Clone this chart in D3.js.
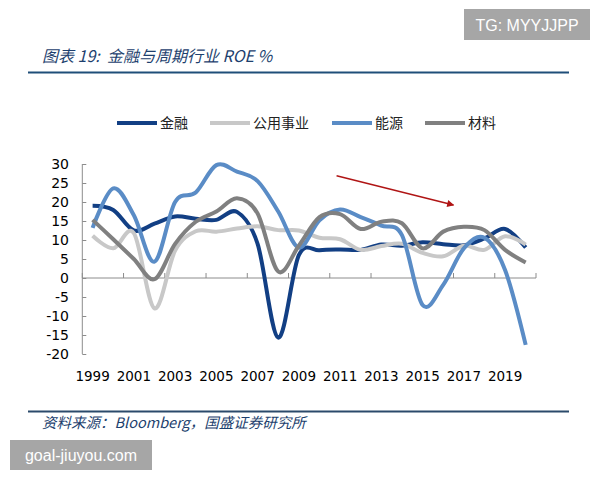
<!DOCTYPE html>
<html>
<head>
<meta charset="utf-8">
<script src="https://cdn.jsdelivr.net/npm/d3@7"></script>
<style>
  body { margin: 0; background: #fff; }
  svg { display: block; }
</style>
</head>
<body>
<svg id="svg" width="600" height="480"></svg>
<script>
// DATA
const years = d3.range(1999, 2021);
const finance   = [19.0, 17.9, 12.5, 14.3, 16.2, 15.6, 15.3, 17.4, 9.0, -15.7, 6.0, 7.3, 7.5, 7.4, 8.8, 8.5, 9.4, 8.9, 8.6, 10.4, 12.9, 8.0];
const utilities = [11.1, 7.8, 11.8, -8.0, 7.2, 12.3, 12.2, 13.0, 13.6, 12.6, 12.5, 10.6, 10.2, 7.4, 8.4, 9.0, 6.6, 5.7, 8.5, 7.4, 11.0, 8.8];
const energy    = [13.2, 23.6, 16.5, 4.3, 20.0, 22.5, 29.7, 28.0, 25.5, 17.5, 8.0, 15.2, 18.0, 16.0, 13.8, 11.3, -7.1, -1.8, 7.8, 10.6, 2.1, -17.6];
const materials = [15.3, 10.2, 5.0, -0.3, 9.0, 14.8, 17.5, 21.0, 17.0, 1.7, 8.5, 16.0, 16.8, 12.9, 14.8, 14.4, 7.8, 12.2, 13.5, 12.6, 7.4, 4.1];
const seriesNames = ["金融", "公用事业", "能源", "材料"];
const seriesColors = ["#123f84", "#c8c8c8", "#5a8cc6", "#808080"];
const yTicks = [-20, -15, -10, -5, 0, 5, 10, 15, 20, 25, 30];
// annotation arrow, in (year, value) units
const arrowFrom = [2010.83, 26.9];
const arrowTo = [2016.5, 19.2];

const series = [finance, utilities, energy, materials].map((vals, i) => ({
  name: seriesNames[i],
  color: seriesColors[i],
  values: vals.map((v, j) => ({ year: years[j], value: v }))
}));

// SCALES
const svg = d3.select("#svg");
const x = d3.scaleBand().domain(years).range([82.3, 536]).padding(0);
const xc = d => x(d) + x.bandwidth() / 2;
const xYear = d3.scaleLinear().domain([1999, 2020]).range([xc(1999), xc(2020)]);
const y = d3.scaleLinear().domain([-20, 30]).range([354, 164]);

const axisColor = "#8c8c8c";
const fontNum = "'DejaVu Sans', Verdana, sans-serif";
const fontCJK = "'Noto Sans CJK SC', sans-serif";
const navy = "#1d3f6e";

// HEADER
svg.append("rect")
  .attr("x", 464).attr("y", 9).attr("width", 126).attr("height", 31)
  .attr("fill", "#a6a6a6");
svg.append("text")
  .attr("x", 527).attr("y", 30.5)
  .attr("text-anchor", "middle")
  .attr("fill", "#fff")
  .style("font", "16px 'Liberation Sans', Arial, sans-serif")
  .text("TG: MYYJJPP");

svg.append("text")
  .attr("x", 42).attr("y", 62)
  .attr("fill", navy)
  .style("font-family", fontCJK)
  .style("font-style", "italic")
  .style("font-size", "16px")
  .style("white-space", "pre")
  .text("图表 19:  金融与周期行业 ROE %");

svg.append("line")
  .attr("x1", 28).attr("x2", 569).attr("y1", 72.5).attr("y2", 72.5)
  .attr("stroke", "#1f4e79").attr("stroke-width", 2);

// LEGEND
const legendX = [117, 210, 332, 425];
const legend = svg.append("g").selectAll("g")
  .data(series)
  .enter()
  .append("g")
  .attr("transform", (d, i) => `translate(${legendX[i]},123)`);
legend.append("line")
  .attr("x1", 0).attr("x2", 40)
  .attr("stroke", d => d.color)
  .attr("stroke-width", 4);
legend.append("text")
  .attr("x", 43).attr("dy", "0.35em")
  .style("font", `14px ${fontCJK}`)
  .attr("fill", "#222")
  .text(d => d.name);

// AXES
const yAxis = svg.append("g")
  .attr("transform", "translate(82.3,0)")
  .call(d3.axisRight(y).tickValues(yTicks).tickSize(4).tickFormat(""));
yAxis.select(".domain").attr("stroke", axisColor).attr("d", `M0,${y(-20)}V${y(30)}`);
yAxis.selectAll(".tick line").attr("stroke", axisColor);

svg.append("g")
  .selectAll("text")
  .data(yTicks)
  .enter()
  .append("text")
  .attr("x", 69).attr("y", d => y(d)).attr("dy", "0.36em")
  .attr("text-anchor", "end")
  .attr("fill", "#000")
  .style("font", `14px ${fontNum}`)
  .text(d => d);

const xTickPos = years.filter((d, i) => i % 2 === 0).map(d => x(d)).concat([536]);
const xAxis = svg.append("g");
xAxis.append("line")
  .attr("x1", 82.3).attr("x2", 536)
  .attr("y1", y(0)).attr("y2", y(0))
  .attr("stroke", axisColor);
xAxis.selectAll(".tk")
  .data(xTickPos)
  .enter()
  .append("line")
  .attr("x1", d => d).attr("x2", d => d)
  .attr("y1", y(0)).attr("y2", y(0) - 5)
  .attr("stroke", axisColor);
xAxis.selectAll("text")
  .data(years.filter((d, i) => i % 2 === 0))
  .enter()
  .append("text")
  .attr("x", d => xc(d)).attr("y", 381)
  .attr("text-anchor", "middle")
  .attr("fill", "#000")
  .style("font", `13.5px ${fontNum}`)
  .text(d => d);

// LINES
const line = d3.line()
  .x(d => xc(d.year))
  .y(d => y(d.value))
  .curve(d3.curveCatmullRom.alpha(0));

svg.append("g")
  .selectAll("path")
  .data(series)
  .enter()
  .append("path")
  .attr("fill", "none")
  .attr("stroke", d => d.color)
  .attr("stroke-width", 4)
  .attr("stroke-linejoin", "round")
  .attr("d", d => line(d.values));

// ARROW
svg.append("defs").append("marker")
  .attr("id", "arrow")
  .attr("viewBox", "0 0 10 10")
  .attr("refX", 9).attr("refY", 5)
  .attr("markerWidth", 8).attr("markerHeight", 7)
  .attr("markerUnits", "userSpaceOnUse")
  .attr("orient", "auto")
  .append("path")
  .attr("d", "M0,0L10,5L0,10Z")
  .attr("fill", "#b01515");
svg.append("line")
  .attr("x1", xYear(arrowFrom[0])).attr("y1", y(arrowFrom[1]))
  .attr("x2", xYear(arrowTo[0])).attr("y2", y(arrowTo[1]))
  .attr("stroke", "#b01515")
  .attr("stroke-width", 1.5)
  .attr("marker-end", "url(#arrow)");

// FOOTER
svg.append("line")
  .attr("x1", 28).attr("x2", 569).attr("y1", 411.5).attr("y2", 411.5)
  .attr("stroke", "#2b4a6b").attr("stroke-width", 2);
svg.append("text")
  .attr("x", 42).attr("y", 428)
  .attr("fill", navy)
  .style("font-family", fontCJK)
  .style("font-style", "italic")
  .style("font-size", "14.5px")
  .text("资料来源：Bloomberg，国盛证券研究所");

svg.append("rect")
  .attr("x", 10).attr("y", 440).attr("width", 142).attr("height", 30)
  .attr("fill", "#a6a6a6");
svg.append("text")
  .attr("x", 81).attr("y", 461)
  .attr("text-anchor", "middle")
  .attr("fill", "#fff")
  .style("font", "16px 'Liberation Sans', Arial, sans-serif")
  .text("goal-jiuyou.com");
</script>
</body>
</html>
